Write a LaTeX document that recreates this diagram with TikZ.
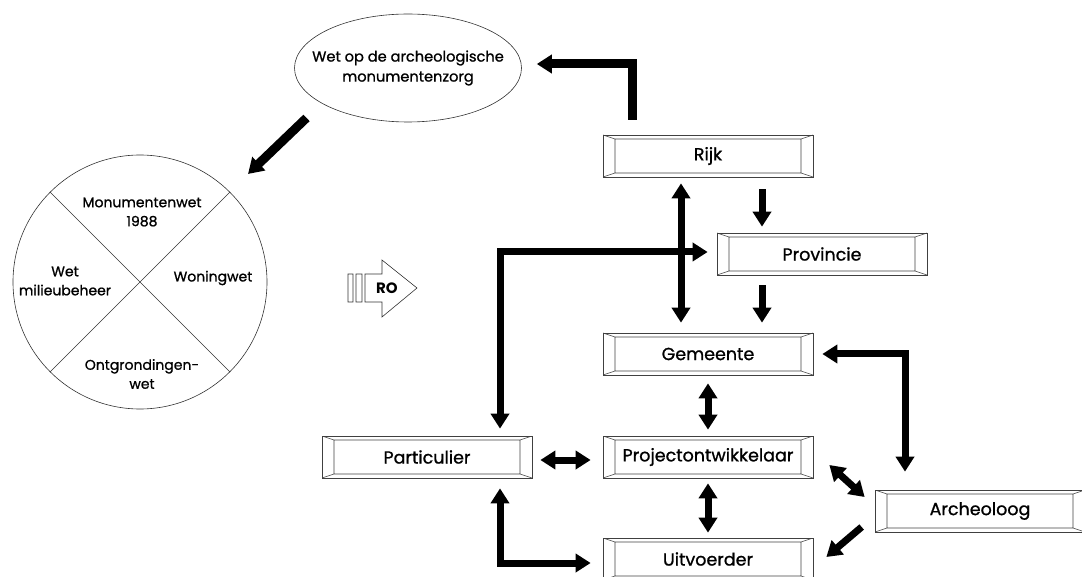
\documentclass[tikz,border=0pt]{standalone}
\usepackage{fontspec}
\setmainfont{Poppins}
\newfontfamily\zwaar{Poppins}[FakeBold=1]
\usetikzlibrary{arrows.meta,shapes.geometric}

\begin{document}
\begin{tikzpicture}[
            x=1pt, y=-1pt,
            box/.style={draw=black!75, line width=0.7pt, minimum width=210pt, minimum height=42pt, inner sep=0pt,
                font=\zwaar\fontsize{17.5}{20}\selectfont,
                path picture={
                    \draw[black!75, line width=0.6pt]
                        ([shift={(12pt,-4pt)}]path picture bounding box.north west) rectangle ([shift={(-12pt,4pt)}]path picture bounding box.south east)
                        (path picture bounding box.north west) -- ++(12pt,-4pt)
                        (path picture bounding box.north east) -- ++(-12pt,-4pt)
                        (path picture bounding box.south west) -- ++(12pt,4pt)
                        (path picture bounding box.south east) -- ++(-12pt,4pt);
                }},
            wettext/.style={align=center, font=\zwaar\fontsize{14}{19}\selectfont},
            pijl/.style={line width=7pt, -{Triangle[length=15pt,width=18pt]}},
            dpijl/.style={line width=7pt, {Triangle[length=15pt,width=18pt]}-{Triangle[length=15pt,width=18pt]}}
        ]
        \useasboundingbox (0,0) rectangle (1082,577);
        % wetgeving
        \node[draw=black!80, line width=0.6pt, ellipse, minimum width=227pt, minimum height=108pt,
            label={[wettext, font=\zwaar\fontsize{14.6}{20}\selectfont]center:Wet op de archeologische\\monumentenzorg}] (wam) at (408,68) {};
        \node[draw=black!80, line width=0.6pt, circle, minimum size=254pt] (wetten) at (140,282) {};
        \draw[black!80, line width=0.6pt] (wetten.north west) -- (wetten.south east)
            (wetten.north east) -- (wetten.south west);
        \node[wettext] (monument) at (142,212) {Monumentenwet\\1988};
        \node[wettext] (milieu) at (65,281) {Wet\\milieubeheer};
        \node[wettext] (woning) at (213,278) {Woningwet};
        \node[wettext] (ontgrond) at (142,374) {Ontgrondingen-\\wet};
        % RO
        \draw[black!80, line width=0.6pt] (348,274) rectangle (353,302) (356,274) rectangle (362,302)
            (365,274) -- (382,274) -- (382,260) -- (417,288) -- (382,317) -- (382,302) -- (365,302) -- cycle;
        \node[font=\fontsize{15}{17}\bfseries] (ro) at (387,288) {RO};
        % actoren
        \node[box] (rijk) at (708,156) {Rijk};
        \node[box] (provincie) at (822,254) {Provincie};
        \node[box] (gemeente) at (708,354) {Gemeente};
        \node[box] (project) at (708,457) {Projectontwikkelaar};
        \node[box] (uitvoerder) at (708,559) {Uitvoerder};
        \node[box] (particulier) at (427,457) {Particulier};
        \node[box] (archeoloog) at (980,511) {Archeoloog};
        % pijlen
        \draw[pijl, line width=9pt] ([xshift=-76pt,yshift=15pt]rijk.north) |- ([xshift=15pt,yshift=4pt]wam.east);
        \draw[pijl, line width=9pt] ([xshift=-11pt,yshift=-17pt]wam.200) -- ([xshift=18pt,yshift=18pt]wetten.45);
        \draw[dpijl] ([xshift=-27pt,yshift=-6pt]rijk.south) -- ([xshift=-27pt,yshift=10pt]gemeente.north);
        \draw[pijl] ([xshift=54pt,yshift=-12pt]rijk.south) -- ([xshift=-60pt,yshift=6pt]provincie.north);
        \draw[pijl] ([xshift=-60pt,yshift=-10pt]provincie.south) -- ([xshift=54pt,yshift=10pt]gemeente.north);
        \draw[dpijl] ([xshift=-9pt,yshift=2pt]provincie.west) -| ([xshift=73pt,yshift=7pt]particulier.north);
        \draw[dpijl] ([yshift=-8pt]gemeente.south) -- ([yshift=6pt]project.north);
        \draw[dpijl] ([yshift=-5pt]project.south) -- ([yshift=5pt]uitvoerder.north);
        \draw[dpijl] ([xshift=8pt,yshift=-3pt]particulier.east) -- ([xshift=-12pt,yshift=-3pt]project.west);
        \draw[dpijl] ([xshift=73pt,yshift=-10pt]particulier.south) |- ([xshift=-12pt,yshift=-4pt]uitvoerder.west);
        \draw[dpijl] ([xshift=9pt]gemeente.east) -| ([xshift=-75pt,yshift=18pt]archeoloog.north);
        \draw[dpijl] ([xshift=16pt,yshift=-8pt]project.east) -- ([xshift=-10pt,yshift=14pt]archeoloog.west);
        \draw[pijl] ([xshift=-13pt,yshift=-16pt]archeoloog.west) -- ([xshift=13pt,yshift=2pt]uitvoerder.east);
\end{tikzpicture}
\end{document}
